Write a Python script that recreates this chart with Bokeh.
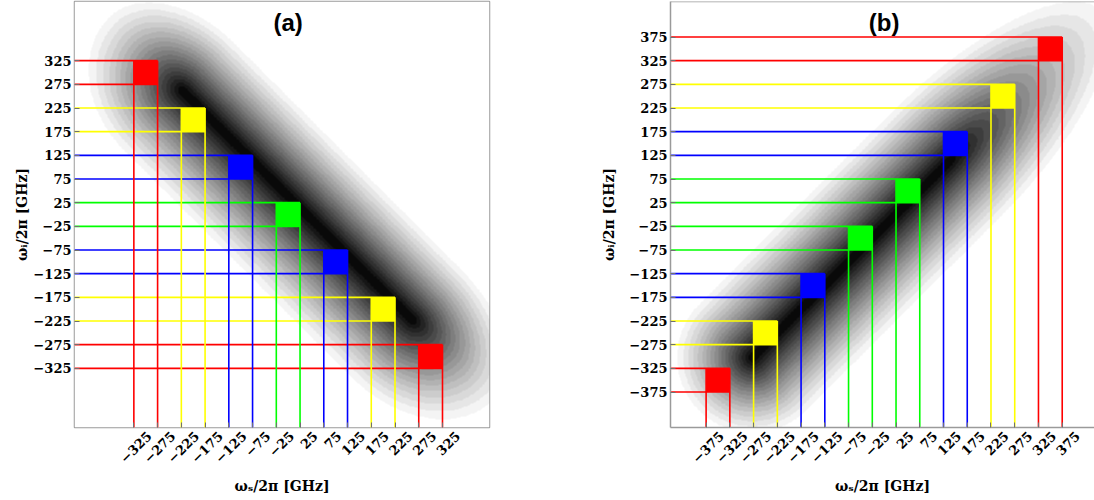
import numpy as np
from bokeh.plotting import figure
from bokeh.layouts import row
from bokeh.models import FixedTicker, LinearColorMapper, Label, Span, Range1d, LinearAxis
from bokeh.embed import file_html
from bokeh.resources import INLINE

# ---------------- data ----------------
bin_width = 50

a_ticks = [-325, -275, -225, -175, -125, -75, -25, 25, 75, 125, 175, 225, 275, 325]
a_x0 = [-325, -225, -125, -25, 75, 175, 275]
a_y0 = [275, 175, 75, -25, -125, -225, -325]
a_colors = ["#ff0000", "#ffff00", "#0000ff", "#00ff00", "#0000ff", "#ffff00", "#ff0000"]

b_ticks = [-375, -325, -275, -225, -175, -125, -75, -25, 25, 75, 125, 175, 225, 275, 325, 375]
b_x0 = [-375, -275, -175, -75, 25, 125, 225, 325]
b_y0 = [-375, -275, -175, -75, 25, 125, 225, 325]
b_colors = ["#ff0000", "#ffff00", "#0000ff", "#00ff00", "#00ff00", "#0000ff", "#ffff00", "#ff0000"]

# joint-spectral background (shape parameters)
a_jsa = dict(direction=-1, ridge_offset=40, s_lo=-240, s_hi=240, cap_lo=176, cap_hi=193,
             width_neg=198, width_pos=165)
b_jsa = dict(direction=1, ridge_offset=25, s_lo=-290, s_hi=120, cap_lo=126, cap_hi=363,
             width_neg=178, width_pos=178)
n_levels = 20
shade_gamma = 1.35

x_label = "ωₛ/2π [GHz]"
y_label = "ωᵢ/2π [GHz]"

# ---------------- helpers ----------------
grays = [0.955 - (0.955 - 0.035) * k / (n_levels - 2) for k in range(n_levels - 1)]
palette = ["#ffffff"] + ["#%02x%02x%02x" % ((int(round(255 * g)),) * 3) for g in grays]
mapper = LinearColorMapper(palette=palette, low=0.0, high=1.0)

frame_color = "#9a9a9a"
tick_font = "DejaVu Serif"
label_shift = 32      # rotated x labels sit centred below their tick


def jsa_field(xr, yr, direction, ridge_offset, s_lo, s_hi, cap_lo, cap_hi, width_neg, width_pos, n=560):
    xs = np.linspace(xr[0], xr[1], n)
    ys = np.linspace(yr[0], yr[1], n)
    X, Y = np.meshgrid(xs, ys)
    if direction < 0:
        s = (X - Y) / 2.0
        v = (X + Y - ridge_offset) / np.sqrt(2)
    else:
        s = (X + Y) / 2.0
        v = (X - Y - ridge_offset) / np.sqrt(2)
    d = np.clip(s_lo - s, 0, None) / cap_lo + np.clip(s - s_hi, 0, None) / cap_hi
    vn = np.where(v < 0, v / width_neg, v / width_pos)
    r = np.sqrt(vn ** 2 + d ** 2)
    f = np.clip(1.0 - r, 0.0, 1.0) ** shade_gamma
    return np.clip(f / 0.98, 0.0, 0.999)


def fmt(t):
    return str(t).replace("-", "\u2212")


def style_labels(ax, size="13px"):
    ax.major_label_text_font = tick_font
    ax.major_label_text_font_style = "bold"
    ax.major_label_text_font_size = size
    ax.major_label_text_color = "black"
    ax.axis_label_text_font = "DejaVu Serif"
    ax.axis_label_text_font_style = "bold"
    ax.axis_label_text_font_size = "14px"
    ax.axis_label_text_color = "black"


def make_panel(xr, yr, ticks, x0s, y0s, colors, jsa, title, width, border_left, border_right,
               ylabel_standoff, own_outline=True):
    p = figure(width=width, height=500, x_range=Range1d(*xr), y_range=Range1d(*yr),
               output_backend="svg", toolbar_location=None,
               min_border_left=border_left, min_border_right=border_right,
               min_border_top=1, min_border_bottom=73)
    p.xgrid.visible = False
    p.ygrid.visible = False
    p.background_fill_color = "white"
    p.border_fill_color = "white"

    field = jsa_field(xr, yr, **jsa)
    p.image(image=[field], x=xr[0], y=yr[0], dw=xr[1] - xr[0], dh=yr[1] - yr[0],
            color_mapper=mapper)

    hx0, hx1, hy, hc = [], [], [], []
    vy0, vy1, vx, vc = [], [], [], []
    for x0, y0, c in zip(x0s, y0s, colors):
        for yy in (y0, y0 + bin_width):
            hx0.append(xr[0]); hx1.append(x0 + bin_width); hy.append(yy); hc.append(c)
        for xx in (x0, x0 + bin_width):
            vy0.append(yr[0]); vy1.append(y0 + bin_width); vx.append(xx); vc.append(c)
    p.segment(x0=hx0, x1=hx1, y0=hy, y1=hy, line_color=hc, line_width=1.6)
    p.segment(x0=vx, x1=vx, y0=vy0, y1=vy1, line_color=vc, line_width=1.6)
    p.quad(left=x0s, right=[x + bin_width for x in x0s],
           bottom=y0s, top=[y + bin_width for y in y0s],
           fill_color=colors, line_color=None)

    overrides = {t: fmt(t) for t in ticks}
    for ax in (p.xaxis[0], p.yaxis[0]):
        ax.ticker = FixedTicker(ticks=ticks, minor_ticks=[])
        ax.major_label_overrides = overrides
        style_labels(ax)
        ax.major_tick_in = 5
        ax.major_tick_out = 0
        ax.major_tick_line_color = "#707070"
        ax.minor_tick_line_color = None
        ax.major_label_standoff = 3
    # bottom axis: tick marks only (labels carried by a second axis below)
    p.xaxis[0].major_label_text_color = None
    p.xaxis[0].major_label_standoff = 0
    p.yaxis[0].axis_label = y_label
    p.yaxis[0].axis_label_standoff = ylabel_standoff

    lab_ax = LinearAxis(ticker=FixedTicker(ticks=[t + label_shift for t in ticks], minor_ticks=[]),
                        major_label_overrides={t + label_shift: fmt(t) for t in ticks},
                        major_label_orientation=np.pi / 4, major_label_standoff=0,
                        major_tick_line_color=None, minor_tick_line_color=None,
                        axis_line_color=None, axis_label=x_label, axis_label_standoff=8)
    style_labels(lab_ax)
    p.add_layout(lab_ax, "below")

    if own_outline:
        p.outline_line_color = frame_color
        p.outline_line_width = 1.5
        p.xaxis[0].axis_line_color = None
        p.yaxis[0].axis_line_color = None
    else:
        p.outline_line_color = None
        p.xaxis[0].axis_line_color = frame_color
        p.yaxis[0].axis_line_color = frame_color
        p.xaxis[0].axis_line_width = 1.5
        p.yaxis[0].axis_line_width = 1.5
        p.add_layout(Span(location=yr[1], dimension="width", line_color=frame_color, line_width=1.5))

    p.add_layout(Label(x=0, y=405, text=title, text_align="center", text_baseline="middle",
                       text_font="Liberation Sans", text_font_style="bold", text_font_size="24px",
                       text_color="black"))
    return p


p1 = make_panel((-450, 424), (-450, 450), a_ticks, a_x0, a_y0, a_colors, a_jsa, "(a)",
                width=560, border_left=74, border_right=71, ylabel_standoff=0)
p2 = make_panel((-450, 443), (-450, 450), b_ticks, b_x0, b_y0, b_colors, b_jsa, "(b)",
                width=534, border_left=110, border_right=0, ylabel_standoff=9, own_outline=False)

layout = row(p1, p2)
open("out.html", "w").write(file_html(layout, INLINE))
